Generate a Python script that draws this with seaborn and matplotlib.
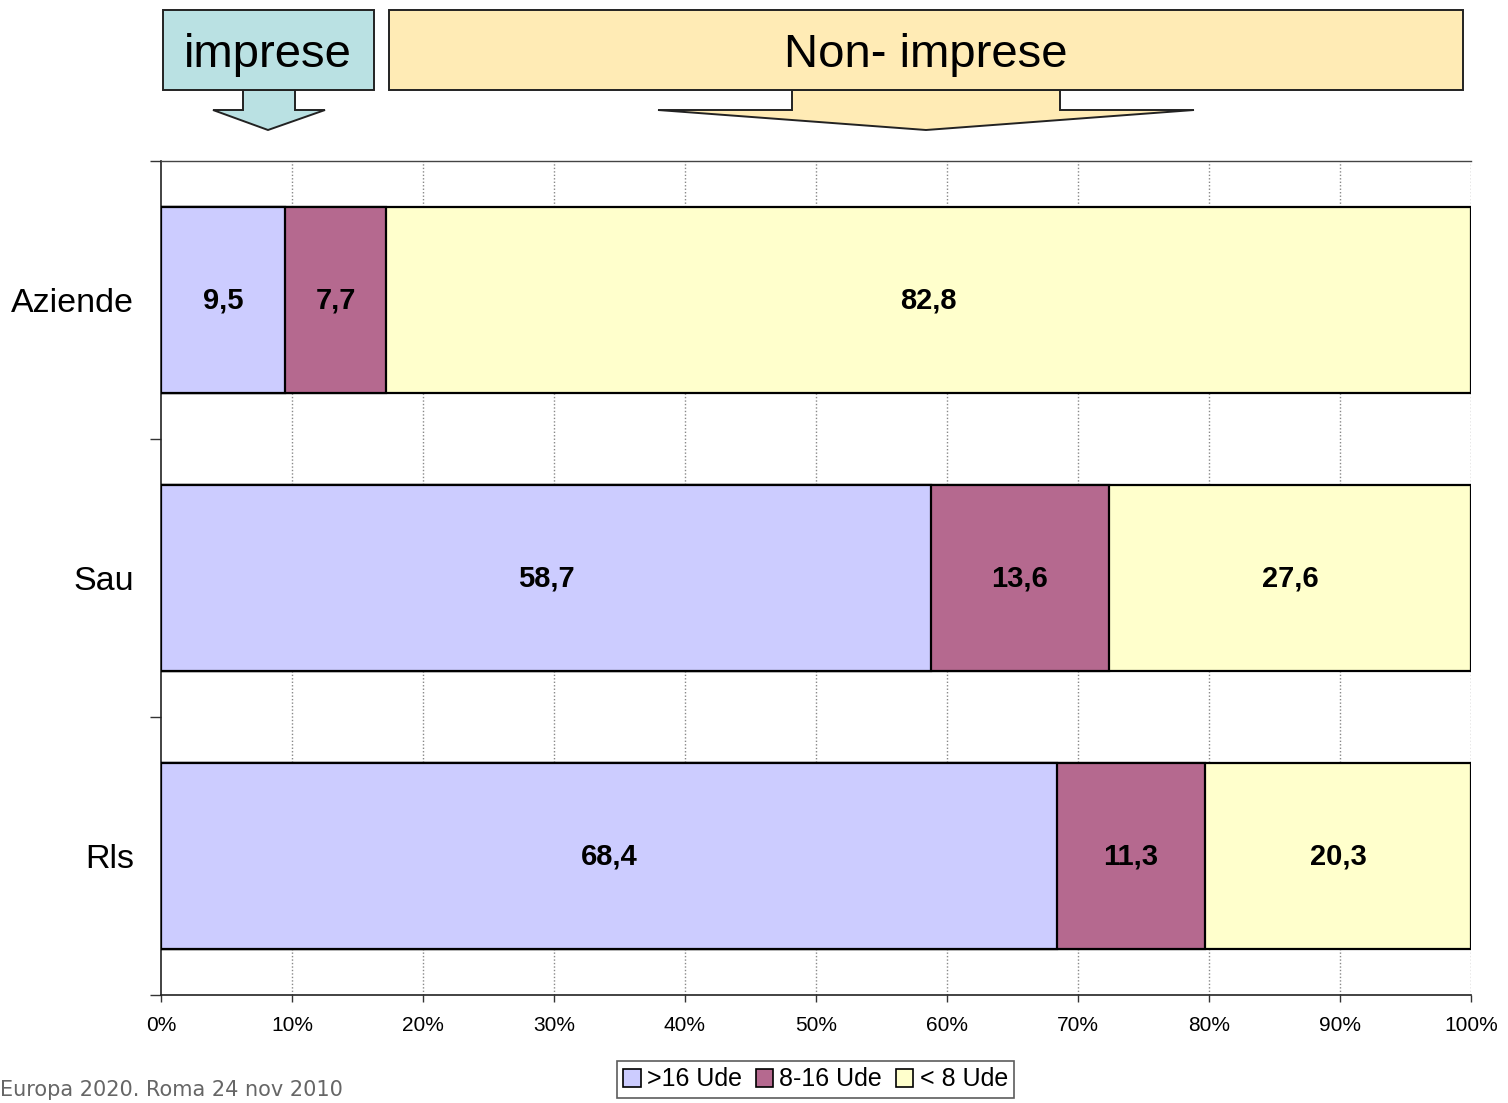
import numpy as np
import pandas as pd
import matplotlib
matplotlib.use("Agg")
import matplotlib.pyplot as plt
import matplotlib.transforms as mtransforms
from matplotlib.patches import Polygon, Rectangle, Patch
import seaborn as sns

categories = ["Aziende", "Sau", "Rls"]
series_names = [">16 Ude", "8-16 Ude", "< 8 Ude"]
v_large = [9.5, 58.7, 68.4]
v_medium = [7.7, 13.6, 11.3]
v_small = [82.8, 27.6, 20.3]
value_labels = [["9,5", "58,7", "68,4"], ["7,7", "13,6", "11,3"], ["82,8", "27,6", "20,3"]]
x_ticks = [0, 10, 20, 30, 40, 50, 60, 70, 80, 90, 100]
x_tick_labels = ["0%", "10%", "20%", "30%", "40%", "50%", "60%", "70%", "80%", "90%", "100%"]
colors = ["#CCCCFF", "#B5698F", "#FFFFCC"]

sns.set_theme(style="white")
plt.rcParams["font.family"] = ["Liberation Sans", "DejaVu Sans"]

W, H = 1508, 1103
fig = plt.figure(figsize=(W / 100, H / 100), dpi=100)
ax = fig.add_axes([161 / W, 1 - 995 / H, (1471 - 161) / W, (995 - 161) / H])

vals = np.array([v_large, v_medium, v_small], dtype=float)
totals = vals.sum(axis=0)
pct = vals / totals * 100
cum = np.cumsum(pct, axis=0)

# draw stacked bars from the full cumulative down
for i in [2, 1, 0]:
    df = pd.DataFrame({"cat": categories, "val": cum[i]})
    sns.barplot(data=df, x="val", y="cat", orient="h", color=colors[i],
                saturation=1, width=0.67, edgecolor="black", linewidth=1.6,
                ax=ax, zorder=3)

# value labels
for i in range(3):
    for j in range(3):
        start = cum[i][j] - pct[i][j]
        ax.text(start + pct[i][j] / 2, j, value_labels[i][j], ha="center", va="center",
                fontsize=21, fontweight="bold", color="black", zorder=5)

ax.set_xlim(0, 100)
ax.set_ylim(2.5, -0.5)
ax.set_xlabel("")
ax.set_ylabel("")
ax.set_xticks(x_ticks)
ax.set_xticklabels(x_tick_labels, fontsize=15, color="black")
ax.set_yticks([0, 1, 2])
ax.set_yticklabels(categories, fontsize=24.5, color="black")
ax.set_yticks([-0.5, 0.5, 1.5, 2.5], minor=True)
ax.tick_params(axis="y", which="major", length=0, pad=19.5)
ax.tick_params(axis="y", which="minor", length=8, width=1, color="#333333", direction="out", left=True)
ax.tick_params(axis="x", which="major", length=5, width=1, color="#333333", direction="out", bottom=True, pad=10)

for x in x_ticks[1:]:
    ax.axvline(x, color="#888888", linestyle=(0, (1, 1.5)), linewidth=1, zorder=1)

for s in ["left", "bottom"]:
    ax.spines[s].set_color("#222222")
    ax.spines[s].set_linewidth(1.2)
ax.spines["top"].set_color("#444444")
ax.spines["top"].set_linewidth(1)
ax.spines["right"].set_visible(False)

# legend
handles = [Patch(facecolor=c, edgecolor="black", linewidth=1.2) for c in colors]
leg = fig.legend(handles, series_names, loc="center", bbox_to_anchor=(815.5 / W, 1 - 1079.5 / H),
                 ncol=3, fontsize=18, frameon=True, fancybox=False, edgecolor="#333333",
                 handlelength=0.7, handleheight=0.7, handletextpad=0.25, columnspacing=0.55,
                 borderpad=0.25, borderaxespad=0)
leg.get_frame().set_linewidth(1.2)
for t in leg.get_texts():
    t.set_color("black")

# header callouts (pixel coordinates)
tpx = mtransforms.Affine2D().scale(1 / W, -1 / H).translate(0, 1) + fig.transFigure

imp_arrow = [(243, 90), (295, 90), (295, 110), (325, 110), (268, 130), (213, 110), (243, 110)]
fig.patches.append(Polygon(imp_arrow, closed=True, facecolor="#BAE1E3", edgecolor="#222222",
                           linewidth=1.4, transform=tpx, figure=fig))
fig.patches.append(Rectangle((163, 10), 211, 80, facecolor="#BAE1E3", edgecolor="#222222",
                             linewidth=1.4, transform=tpx, figure=fig))
fig.text(268 / W, 1 - 67 / H, "imprese", ha="center", va="baseline", fontsize=34, color="black")

non_arrow = [(792, 90), (1060, 90), (1060, 110), (1194, 110), (926, 130), (658, 110), (792, 110)]
fig.patches.append(Polygon(non_arrow, closed=True, facecolor="#FFEBB5", edgecolor="#222222",
                           linewidth=1.4, transform=tpx, figure=fig))
fig.patches.append(Rectangle((389, 10), 1074, 80, facecolor="#FFEBB5", edgecolor="#222222",
                             linewidth=1.4, transform=tpx, figure=fig))
fig.text(926 / W, 1 - 67 / H, "Non- imprese", ha="center", va="baseline", fontsize=34, color="black")

fig.text(0 / W, 1 - 1080 / H, "Europa 2020. Roma 24 nov 2010", ha="left", va="top",
         fontsize=15, color="#666666", family=["DejaVu Sans"])

fig.savefig("out.png", dpi=100)
